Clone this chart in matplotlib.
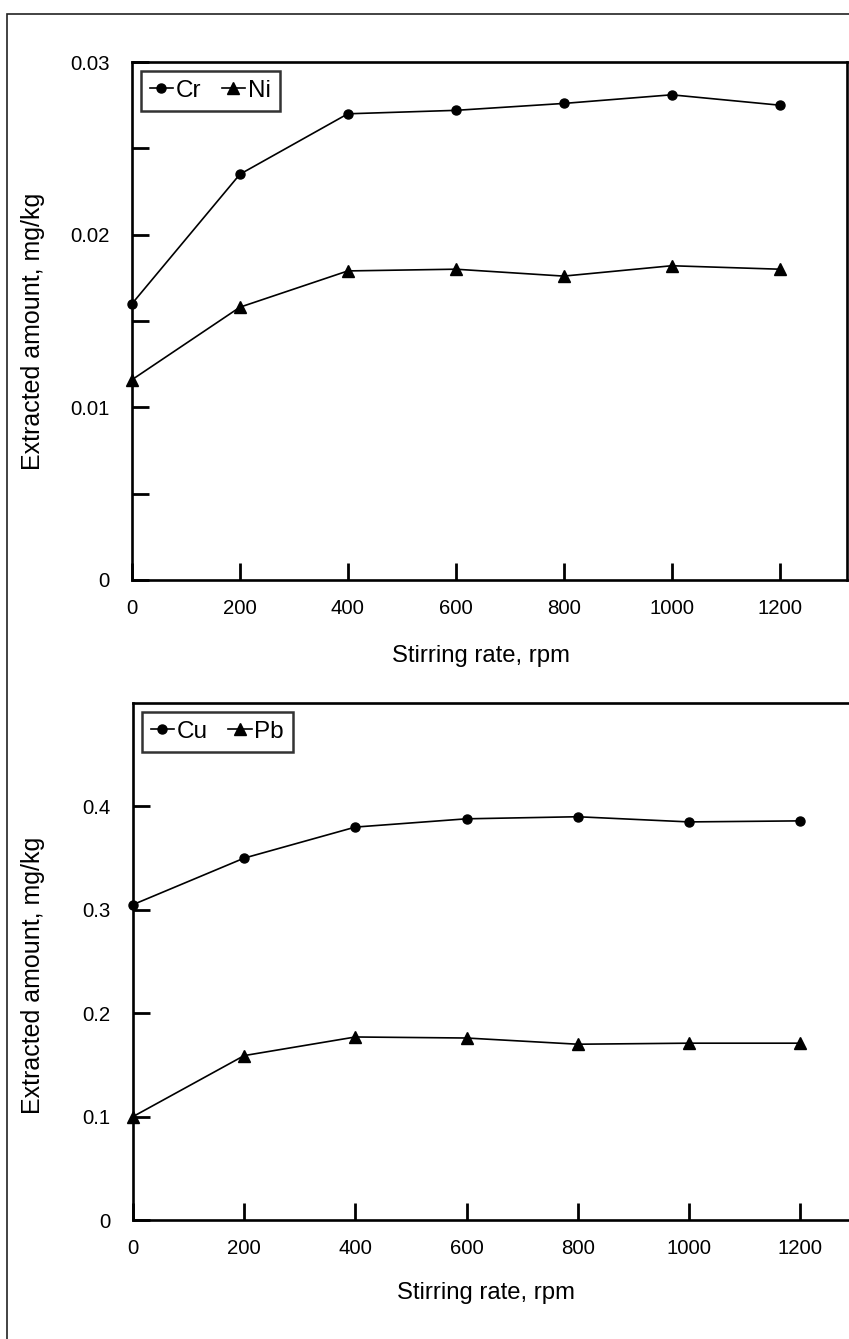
import matplotlib
matplotlib.use("Agg")
import matplotlib.pyplot as plt
from matplotlib.patches import Rectangle

plt.rcParams['font.family'] = ['Liberation Sans', 'DejaVu Sans']

# Data
rate = [0, 200, 400, 600, 800, 1000, 1200]
cr = [0.0160, 0.0235, 0.0270, 0.0272, 0.0276, 0.0281, 0.0275]
ni = [0.0116, 0.0158, 0.0179, 0.0180, 0.0176, 0.0182, 0.0180]
cu = [0.305, 0.350, 0.380, 0.388, 0.390, 0.385, 0.386]
pb = [0.100, 0.159, 0.177, 0.176, 0.170, 0.171, 0.171]

top_yticks = [0, 0.01, 0.02, 0.03]
top_ytick_labels = ['0', '0.01', '0.02', '0.03']
top_minor = [0.005, 0.015, 0.025]
bot_yticks = [0, 0.1, 0.2, 0.3, 0.4]
bot_ytick_labels = ['0', '0.1', '0.2', '0.3', '0.4']
xticks = [0, 200, 400, 600, 800, 1000, 1200]

W, H = 849, 1339
fig = plt.figure(figsize=(W / 100, H / 100), dpi=100)

# outer frame
fig.patches.append(Rectangle((7 / W, 0 - 0.01), 1.0, 1 - 14 / H + 0.01,
                             transform=fig.transFigure, fill=False,
                             edgecolor='#222222', linewidth=1.2, clip_on=False))

FS = 14.7
FS_XLAB = 17.2
FS_YLAB = 18
FS_LEG = 17.5
lw_spine = 1.9


def style(ax, ylim, xmax, yticks, ylabels, minor=None, right=True):
    ax.set_xlim(0, xmax)
    ax.set_ylim(*ylim)
    ax.set_xticks(xticks)
    ax.set_xticklabels([str(t) for t in xticks])
    ax.set_yticks(yticks)
    ax.set_yticklabels(ylabels)
    if minor:
        ax.set_yticks(minor, minor=True)
    ax.tick_params(axis='both', which='both', direction='in', length=12,
                   width=2.0, labelsize=FS, color='black')
    ax.tick_params(axis='x', pad=14)
    ax.tick_params(axis='y', pad=16)
    for s in ['left', 'bottom', 'top', 'right']:
        ax.spines[s].set_linewidth(lw_spine)
    if not right:
        ax.spines['right'].set_visible(False)
    ax.set_xlabel('Stirring rate, rpm', fontsize=FS_XLAB)
    ax.set_ylabel('Extracted amount, mg/kg', fontsize=FS_YLAB)


def legend(ax):
    leg = ax.legend(loc='upper left', ncol=2, fontsize=FS_LEG, frameon=True,
                    fancybox=False, edgecolor='black', handlelength=0.95,
                    handletextpad=0.12, columnspacing=0.85, borderpad=0.38,
                    borderaxespad=0.35)
    leg.get_frame().set_linewidth(1.8)


# Top axes
ax1 = fig.add_axes([132 / W, 1 - 580 / H, (847 - 132) / W, 518 / H])
ax1.plot(rate, cr, '-o', color='black', lw=1.2, ms=6.5, label='Cr', clip_on=False)
ax1.plot(rate, ni, '-^', color='black', lw=1.2, ms=8.5, label='Ni', clip_on=False)
style(ax1, (0, 0.03), 1325, top_yticks, top_ytick_labels, minor=top_minor)
ax1.yaxis.set_label_coords(-0.122, 0.48)
ax1.xaxis.set_label_coords(0.488, -0.125)
legend(ax1)

# Bottom axes
ax2 = fig.add_axes([133 / W, 1 - 1220 / H, 722.6 / W, 517 / H])
ax2.plot(rate, cu, '-o', color='black', lw=1.2, ms=6.5, label='Cu', clip_on=False)
ax2.plot(rate, pb, '-^', color='black', lw=1.2, ms=8.5, label='Pb', clip_on=False)
style(ax2, (0, 0.5), 1300, bot_yticks, bot_ytick_labels, right=False)
ax2.yaxis.set_label_coords(-0.122, 0.474)
ax2.xaxis.set_label_coords(0.489, -0.12)
legend(ax2)

fig.savefig('out.png', dpi=100)
